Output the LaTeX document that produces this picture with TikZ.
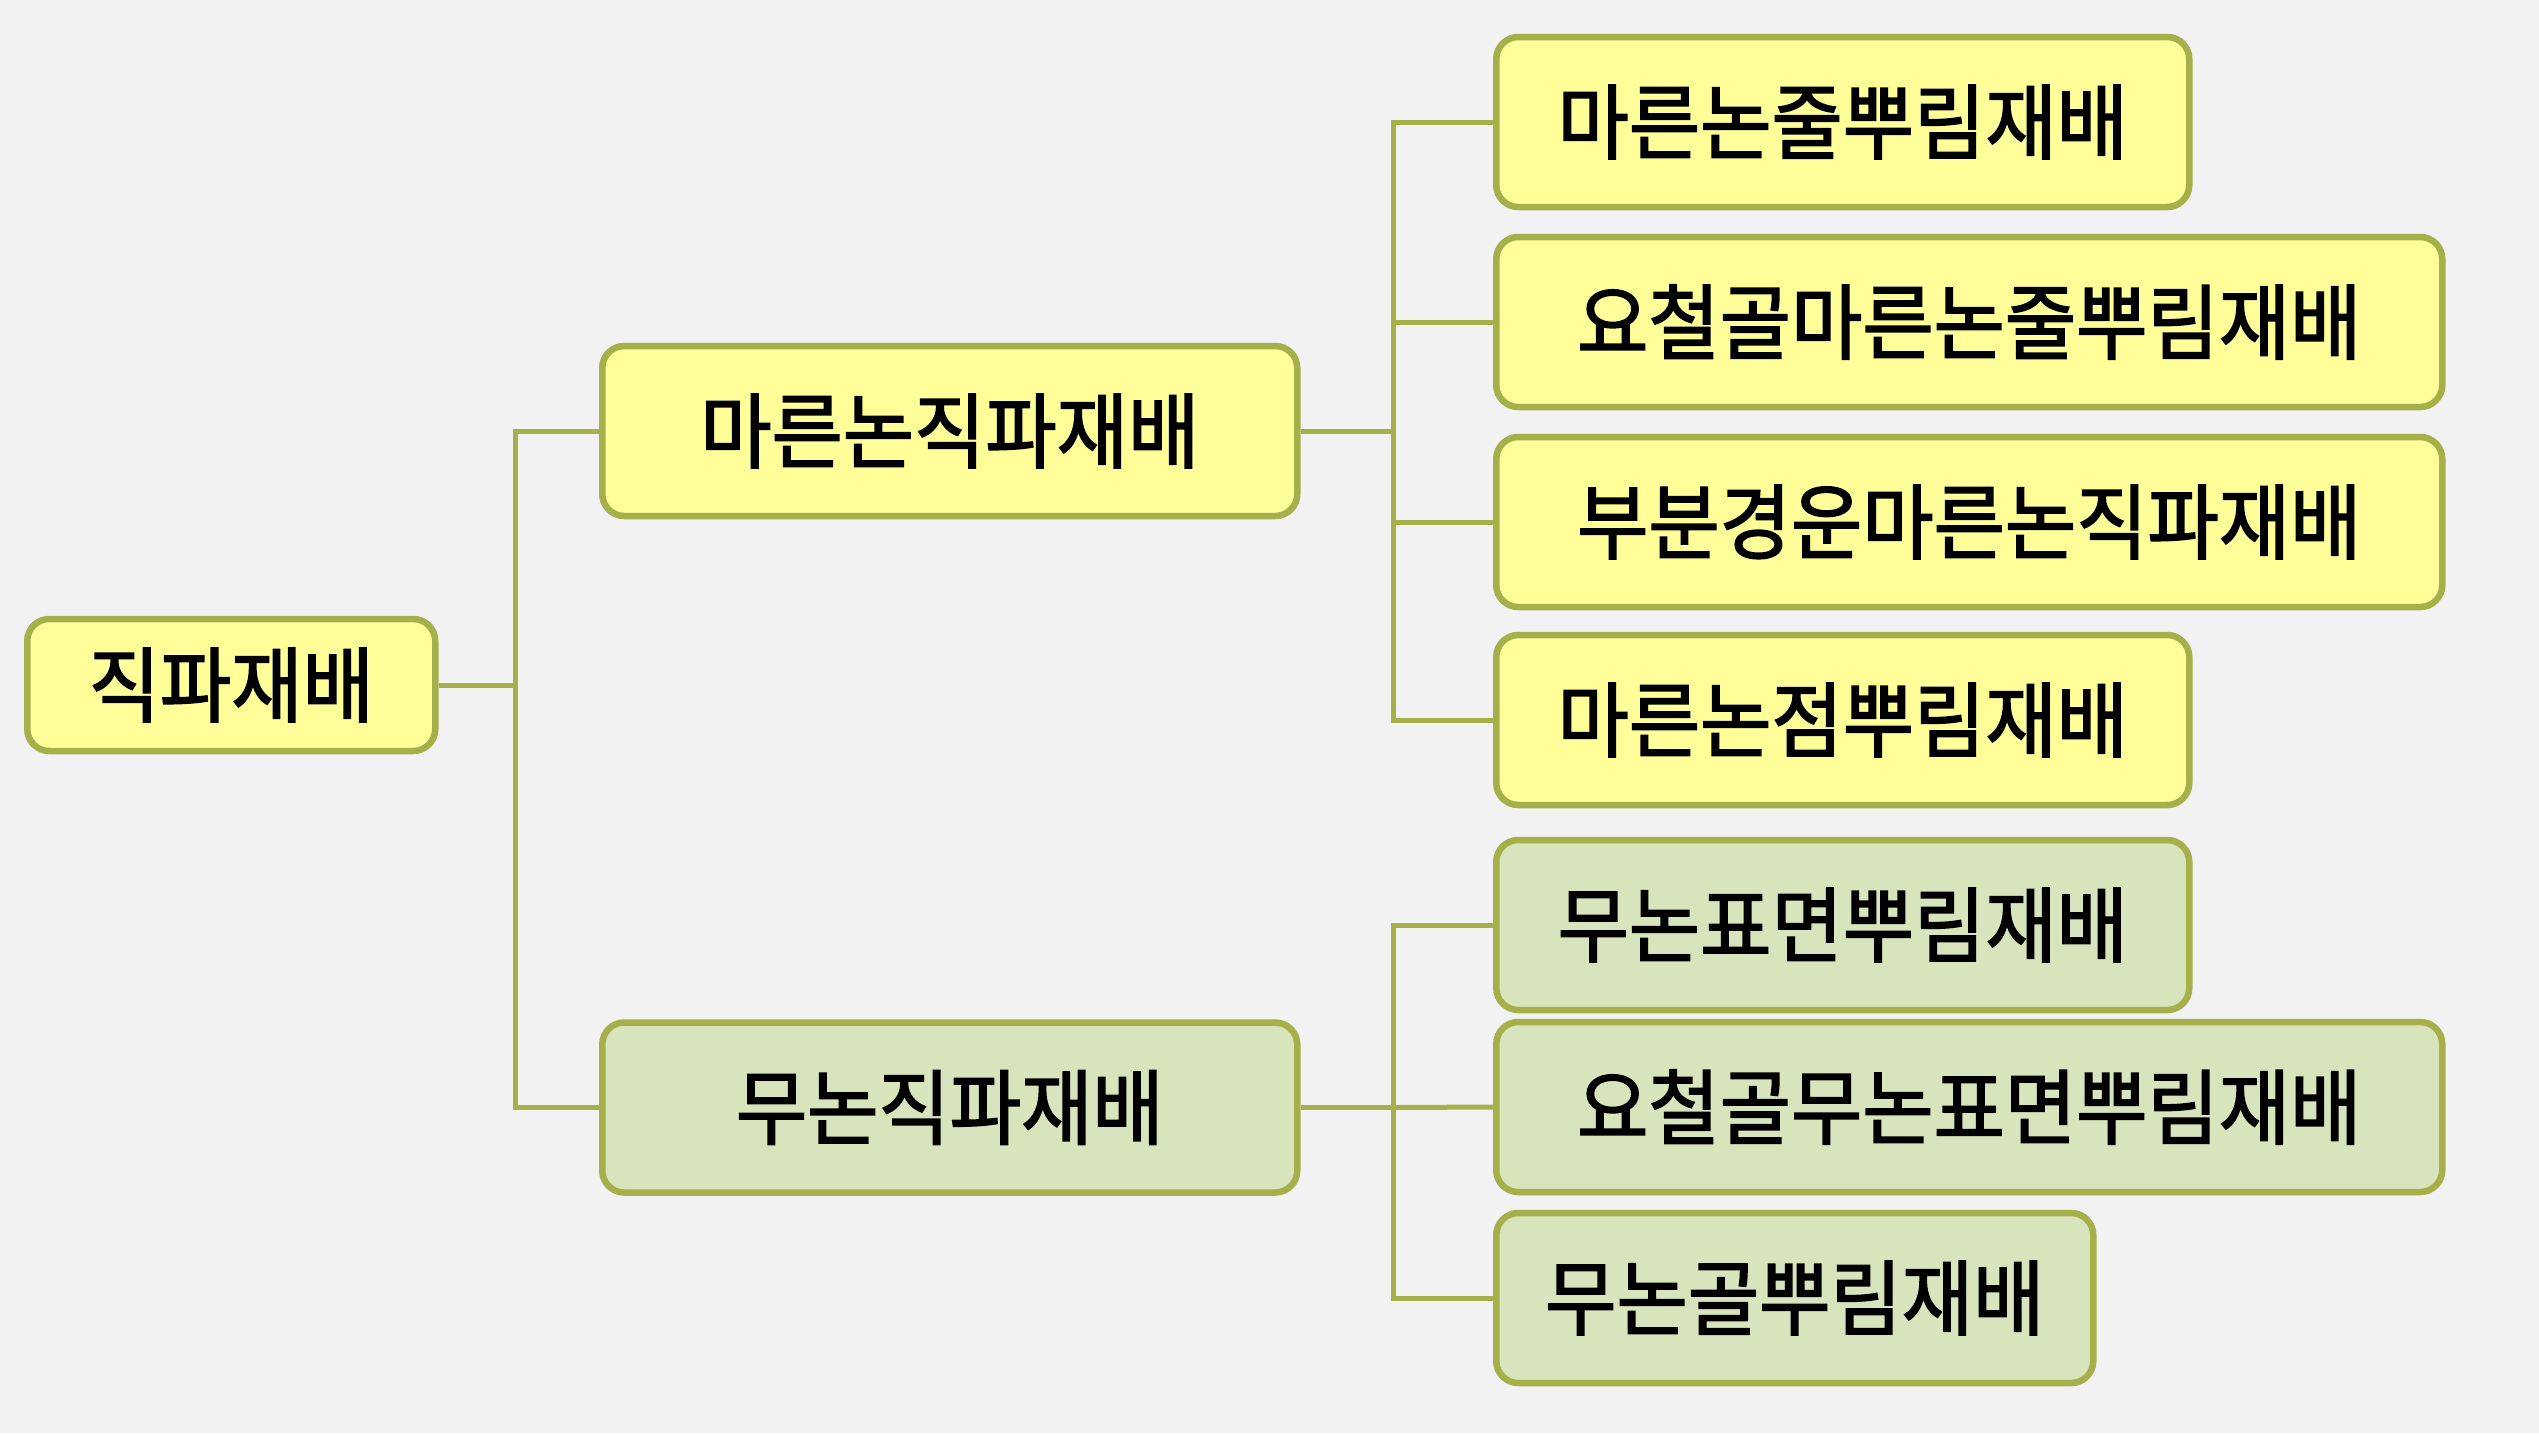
\documentclass[tikz,border=0pt]{standalone}
\usepackage{fontspec}
\newfontfamily\kr[FakeStretch=0.945,FakeBold=2]{Noto Sans CJK KR}
\definecolor{bg}{HTML}{F2F2F2}
\definecolor{edge}{HTML}{A6B04A}
\definecolor{yel}{HTML}{FFFF99}
\definecolor{grn}{HTML}{D8E4BC}
\begin{document}
\begin{tikzpicture}[x=1pt,y=-1pt,
  box/.style={draw=edge, line width=6.5pt, rounded corners=22pt, inner sep=0pt,
    minimum height=170pt, font=\kr\fontsize{82}{88}\selectfont, text=black, anchor=west},
  ybox/.style={box, fill=yel},
  gbox/.style={box, fill=grn},
  conn/.style={draw=edge, line width=5pt}]
\fill[bg] (0,0) rectangle (2539,1433);
\useasboundingbox (0,0) rectangle (2539,1433);
\coordinate (j0) at (515,685);
\coordinate (j1) at (1393,431);
\coordinate (j2) at (1393,1107.5);
\node[ybox, minimum width=408pt, minimum height=132pt] (root) at (24,685) {직파재배};
\node[ybox, minimum width=695pt] (m1) at (599,431) {마른논직파재배};
\node[gbox, minimum width=695pt] (m2) at (599,1107.5) {무논직파재배};
\node[ybox, minimum width=693pt] (l1) at (1493,122) {마른논줄뿌림재배};
\node[ybox, minimum width=946pt] (l2) at (1493,322) {요철골마른논줄뿌림재배};
\node[ybox, minimum width=946pt] (l3) at (1493,522) {부분경운마른논직파재배};
\node[ybox, minimum width=693pt] (l4) at (1493,720) {마른논점뿌림재배};
\node[gbox, minimum width=693pt] (l5) at (1493,925) {무논표면뿌림재배};
\node[gbox, minimum width=946pt] (l6) at (1493,1107) {요철골무논표면뿌림재배};
\node[gbox, minimum width=597pt] (l7) at (1493,1298) {무논골뿌림재배};
\draw[conn] (root.east) -- (j0);
\draw[conn] (j0) |- (m1.west);
\draw[conn] (j0) |- (m2.west);
\draw[conn] (m1.east) -- (j1);
\draw[conn] (m2.east) -- (j2);
\draw[conn] (j1) |- (l1.west);
\draw[conn] (j1) |- (l2.west);
\draw[conn] (j1) |- (l3.west);
\draw[conn] (j1) |- (l4.west);
\draw[conn] (j2) |- (l5.west);
\draw[conn] (j2) -- (l6.west);
\draw[conn] (j2) |- (l7.west);
\end{tikzpicture}
\end{document}
